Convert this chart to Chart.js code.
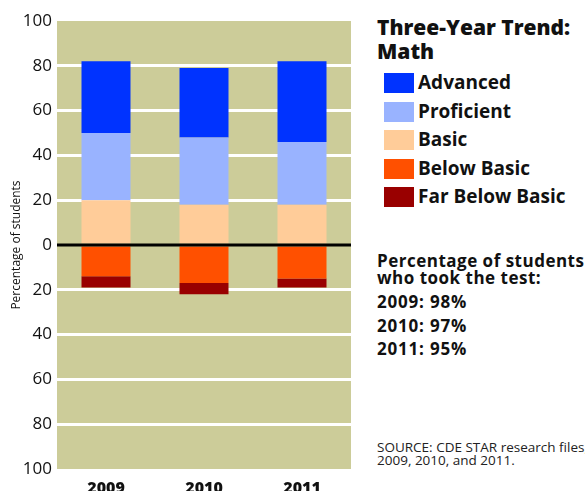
<!DOCTYPE html>
<html>
<head>
<meta charset="utf-8">
<script src="https://cdn.jsdelivr.net/npm/chart.js@4.4.1/dist/chart.umd.min.js"></script>
<style>
    html, body { margin: 0; padding: 0; background: #fff; }
    #wrap { position: relative; width: 585px; height: 491px; overflow: hidden; font-family: "Open Sans", sans-serif; color: #111; }
    #chart { position: absolute; left: 0; top: 0; }
    .abs { position: absolute; white-space: nowrap; }
    #title { left: 377px; top: 15px; font-size: 21px; font-weight: 800; line-height: 24px; }
    .row { position: absolute; left: 384px; height: 20px; }
    .sw { position: absolute; left: 0; top: 0; width: 30px; height: 20px; }
    .lbl { position: absolute; left: 34px; top: -4px; font-size: 19px; font-weight: 700; line-height: 26px; white-space: nowrap; }
    #took { left: 377px; top: 252px; font-size: 17px; font-weight: 700; line-height: 17px; letter-spacing: 0.5px; }
    .yr { left: 377px; font-size: 17px; font-weight: 700; line-height: 17px; letter-spacing: 0.8px; }
    #source { left: 377px; top: 441px; font-size: 13.5px; line-height: 13px; color: #222; }
</style>
</head>
<body>
<div id="wrap">
    <canvas id="chart" width="360" height="491"></canvas>
    <div id="title" class="abs">Three-Year Trend:<br>Math</div>
    <div id="legend"></div>
    <div id="took" class="abs">Percentage of students<br>who took the test:</div>
    <div id="years"></div>
    <div id="source" class="abs">SOURCE: CDE STAR research files,<br>2009, 2010, and 2011.</div>
</div>
<script>
const years = ["2009", "2010", "2011"];

// positive side, stacked upward from zero
const basic      = [20, 18, 18];
const proficient = [30, 30, 28];
const advanced   = [32, 31, 36];
// negative side, stacked downward from zero
const belowBasic    = [-14, -17, -15];
const farBelowBasic = [-5, -5, -4];

const tookTest = ["98%", "97%", "95%"];

const yTicks = [-100, -80, -60, -40, -20, 0, 20, 40, 60, 80, 100];

const SERIES = [
    { label: "Basic",           data: basic,         color: "#ffcc99" },
    { label: "Proficient",      data: proficient,    color: "#99b3ff" },
    { label: "Advanced",        data: advanced,      color: "#0033ff" },
    { label: "Below Basic",     data: belowBasic,    color: "#ff5000" },
    { label: "Far Below Basic", data: farBelowBasic, color: "#990000" },
];
const legendOrder = ["Advanced", "Proficient", "Basic", "Below Basic", "Far Below Basic"];

// khaki plot background
const bgPlugin = {
    id: "plotBg",
    beforeDraw(chart) {
        const a = chart.chartArea, c = chart.ctx;
        c.save();
        c.fillStyle = "#cccc99";
        c.fillRect(a.left, a.top, a.right - a.left, a.bottom - a.top);
        c.restore();
    },
};

// black zero line sits on top of the bars
const zeroPlugin = {
    id: "zeroLine",
    afterDatasetsDraw(chart) {
        const a = chart.chartArea, c = chart.ctx;
        const y = chart.scales.y.getPixelForValue(0);
        c.save();
        c.strokeStyle = "#000";
        c.lineWidth = 3;
        c.beginPath();
        c.moveTo(a.left, y);
        c.lineTo(a.right, y);
        c.stroke();
        c.restore();
    },
};

new Chart(document.getElementById("chart"), {
    type: "bar",
    data: {
        labels: years,
        datasets: SERIES.map(s => ({
            label: s.label, data: s.data, backgroundColor: s.color,
            borderWidth: 0, barPercentage: 0.5, categoryPercentage: 1,
        })),
    },
    options: {
        responsive: false,
        animation: false,
        layout: { padding: { top: 21, right: 9, left: 0, bottom: 0 } },
        plugins: { legend: { display: false }, tooltip: { enabled: false } },
        scales: {
            x: {
                stacked: true,
                grid: { display: false },
                border: { display: false },
                ticks: { color: "#111", font: { family: "Open Sans", size: 16, weight: "800" }, padding: 2 },
                afterFit(s) { s.height = 22; },
            },
            y: {
                stacked: true,
                min: -100, max: 100,
                afterBuildTicks(s) { s.ticks = yTicks.map(v => ({ value: v })); },
                grid: {
                    drawTicks: false,
                    lineWidth: 3,
                    color: c => (Math.abs(c.tick.value) === 100 || c.tick.value === 0) ? "rgba(0,0,0,0)" : "#ffffff",
                },
                border: { display: false },
                ticks: {
                    color: "#111",
                    font: { family: "Open Sans", size: 17 },
                    padding: 5,
                    callback: v => Math.abs(v),
                },
                title: {
                    display: true,
                    text: "Percentage of students",
                    color: "#111",
                    font: { family: "Open Sans", size: 12 },
                    padding: { top: 9, bottom: 0 },
                },
                afterFit(s) { s.width = 57; },
            },
        },
    },
    plugins: [bgPlugin, zeroPlugin],
});

// legend and side notes as plain HTML text
const legend = document.getElementById("legend");
legendOrder.forEach((name, i) => {
    const s = SERIES.find(x => x.label === name);
    const row = document.createElement("div");
    row.className = "row";
    row.style.top = (73 + i * 28.5) + "px";
    row.innerHTML = `<div class="sw" style="background:${s.color}"></div><div class="lbl">${s.label}</div>`;
    legend.appendChild(row);
});

const yearBox = document.getElementById("years");
years.forEach((y, i) => {
    const d = document.createElement("div");
    d.className = "abs yr";
    d.style.top = (293 + i * 23.5) + "px";
    d.textContent = `${y}: ${tookTest[i]}`;
    yearBox.appendChild(d);
});
</script>
</body>
</html>
